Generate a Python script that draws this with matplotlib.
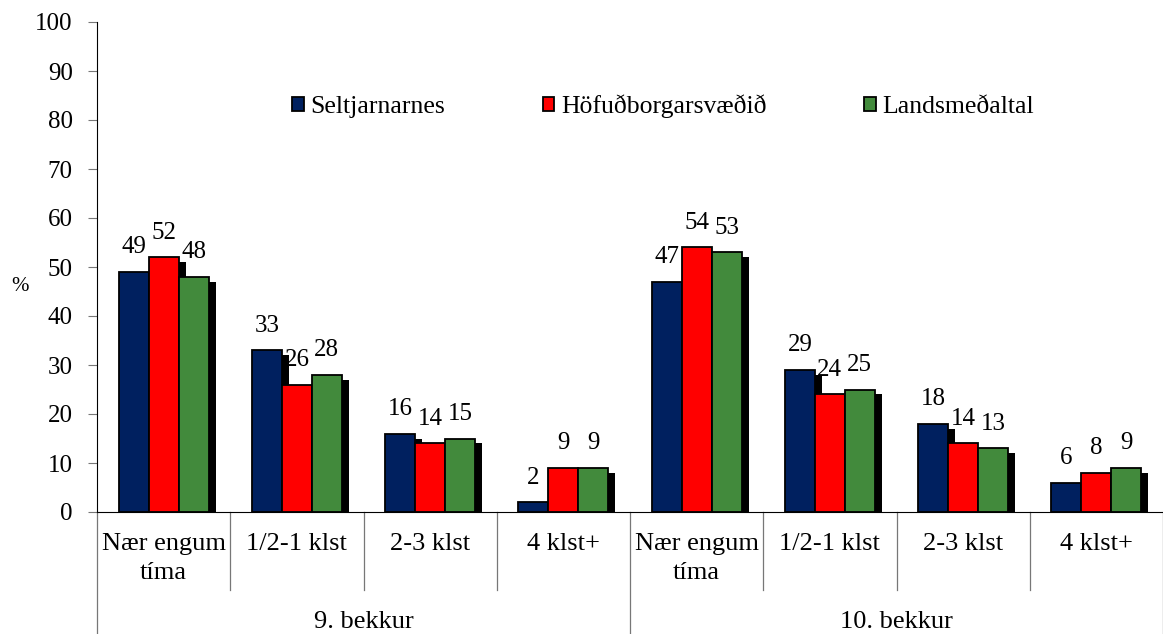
import matplotlib.pyplot as plt
import numpy as np

plt.rcParams['font.family'] = ['Liberation Serif', 'DejaVu Serif']

categories = ['Nær engum\ntíma', '1/2-1 klst', '2-3 klst', '4 klst+',
              'Nær engum\ntíma', '1/2-1 klst', '2-3 klst', '4 klst+']
groups = ['9. bekkur', '10. bekkur']
series = ['Seltjarnarnes', 'Höfuðborgarsvæðið', 'Landsmeðaltal']
seltjarnarnes = [49, 33, 16, 2, 47, 29, 18, 6]
hofudborg = [52, 26, 14, 9, 54, 24, 14, 8]
landsmedaltal = [48, 28, 15, 9, 53, 25, 13, 9]
bar_colors = ['#00205F', '#FF0000', '#428A3C']

W, H = 1163, 634
fig = plt.figure(figsize=(W / 100, H / 100), dpi=100)
ax = fig.add_axes([97 / W, (H - 512) / H, (W - 97) / W, 490 / H])

x = np.arange(len(categories)) + 0.5
width = 0.225
shadow_dx = 7 / 133.3
values = [seltjarnarnes, hofudborg, landsmedaltal]

# shadows first, then the bars on top
for i, vals in enumerate(values):
    pos = x + (i - 1) * width
    ax.bar(pos + shadow_dx, [max(v - 1, 0) for v in vals], width, color='black', zorder=1)
for i, vals in enumerate(values):
    pos = x + (i - 1) * width
    ax.bar(pos, vals, width, color=bar_colors[i], edgecolor='black', linewidth=1.3,
           label=series[i], zorder=2)
    for p, v in zip(pos, vals):
        ax.text(p, v + 5, str(v), ha='center', va='center', fontsize=18, zorder=3)

ax.set_xlim(0, 8)
ax.set_ylim(0, 100)
ax.set_yticks(range(0, 101, 10))
ax.tick_params(axis='y', direction='out', length=6.5, color='#777777', labelsize=18, pad=11)
ax.set_xticks([])
ax.spines['top'].set_visible(False)
ax.spines['right'].set_visible(False)
fig.text(20 / W, 1 - 286 / H, '%', ha='center', va='center', fontsize=15)

# category labels and separators below the axis
trans = ax.get_xaxis_transform()
px = 1 / 490
for xi, lab in zip(x, categories):
    ax.text(xi, -21 * px, lab, ha='center', va='top', fontsize=19,
            transform=trans, linespacing=1.4)
for b in range(1, 8):
    if b == 4:
        continue
    ax.plot([b, b], [0, -78 * px], color='#777777', lw=0.9, transform=trans, clip_on=False)
for b in [0, 4, 8]:
    ax.plot([b, b], [0, -125 * px], color='#777777', lw=0.9, transform=trans, clip_on=False)
for gi, g in enumerate(groups):
    ax.text(2 + 4 * gi, -110 * px, g, ha='center', va='center', fontsize=19, transform=trans)

ax.legend(loc='center', bbox_to_anchor=(0.531, 0.828), ncol=3, frameon=False, fontsize=18.5,
          handlelength=0.45, handleheight=0.45, handletextpad=0.25, columnspacing=3.8)

fig.savefig('out.png', dpi=100)
